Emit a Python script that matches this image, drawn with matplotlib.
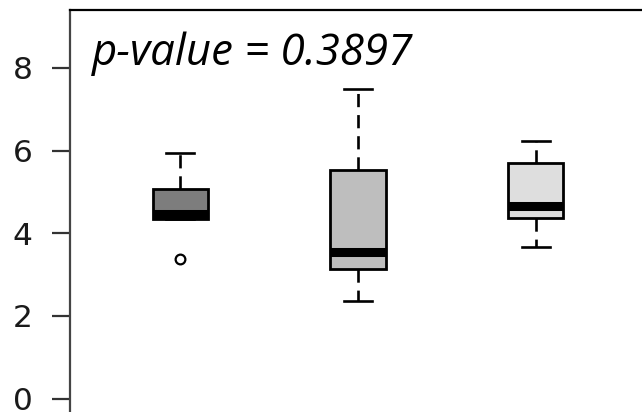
import matplotlib
matplotlib.use("Agg")
import matplotlib.pyplot as plt

# five-number summaries for the three groups
positions = [1, 2, 3]
q1 = [4.34, 3.13, 4.36]
medians = [4.46, 3.54, 4.65]
q3 = [5.08, 5.54, 5.71]
whislo = [4.34, 2.36, 3.66]
whishi = [5.95, 7.49, 6.24]
fliers = [[3.37], [], []]
fills = ["#7d7d7d", "#bebebe", "#dedede"]
p_value = 0.3897

stats = []
for i in range(len(positions)):
    stats.append(
        dict(
            med=medians[i],
            q1=q1[i],
            q3=q3[i],
            whislo=whislo[i],
            whishi=whishi[i],
            fliers=fliers[i],
        )
    )

fig = plt.figure(figsize=(6.42, 4.12), dpi=100)
ax = fig.add_axes([70 / 642, -2 / 412, 576 / 642, 404 / 412])

bp = ax.bxp(
    stats,
    positions=positions,
    widths=0.31,
    patch_artist=True,
    showfliers=True,
    boxprops=dict(linewidth=2.0, edgecolor="black"),
    medianprops=dict(color="black", linewidth=6.5, solid_capstyle="butt"),
    whiskerprops=dict(color="black", linewidth=1.9, linestyle=(0, (5, 3))),
    capprops=dict(color="black", linewidth=1.9),
    capwidths=0.155,
    flierprops=dict(marker="o", markersize=7, markerfacecolor="none",
                    markeredgecolor="black", markeredgewidth=1.6),
)
for patch, c in zip(bp["boxes"], fills):
    patch.set_facecolor(c)

ax.set_xlim(0.38, 3.62)
ax.set_ylim(-0.37, 9.40)
ax.set_yticks([0, 2, 4, 6, 8])
ax.set_xticks([])

for side in ["left", "top", "right", "bottom"]:
    ax.spines[side].set_linewidth(1.6)
ax.spines["left"].set_color("#444444")
ax.spines["top"].set_color("black")

ax.tick_params(axis="y", length=13, width=1.6, color="#333333", pad=14,
               labelsize=22.5, labelcolor="#1a1a1a")
for lab in ax.get_yticklabels():
    lab.set_fontfamily("DejaVu Sans")

ax.text(0.505, 8.07, f"p-value = {p_value}", fontsize=31.5, style="italic",
        family="Open Sans", ha="left", va="baseline")

fig.savefig("out.png", dpi=100)
